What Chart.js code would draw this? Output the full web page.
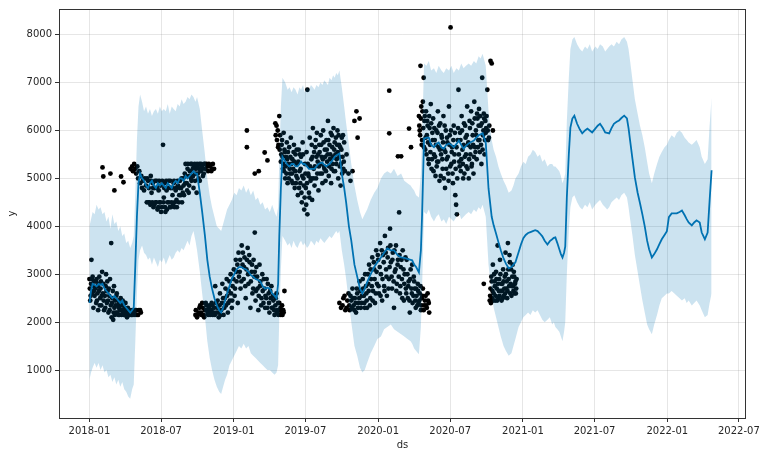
<!DOCTYPE html>
<html lang="en">
<head>
<meta charset="UTF-8">
<title>Forecast</title>
<script src="https://cdn.jsdelivr.net/npm/chart.js@4.4.1/dist/chart.umd.min.js"></script>
<style>
  * {margin:0;padding:0;box-sizing:border-box;}
  body {background:#fff;width:768px;height:459px;overflow:hidden;}
</style>
</head>
<body>
<canvas id="chart" width="768" height="459"></canvas>
<script>
// x values are days since 2018-01-01
const xTickLabels = ['2018-01','2018-07','2019-01','2019-07','2020-01','2020-07','2021-01','2021-07','2022-01','2022-07'];
const yTicks = [1000,2000,3000,4000,5000,6000,7000,8000];

// observed points [day, y]
const obsWinter2018 = [
  [0,2900],[1,2700],[2,2450],[4,2800],[6,2900],[7,2600],[9,2750],[10,2300],[12,2850],[13,2550],[15,2700],[17,2400],
  [18,2900],[20,2600],[22,2250],[23,2800],[25,2950],[27,2500],[28,2700],[30,2350],[32,3050],[34,2600],[35,2800],
  [37,2250],[39,2550],[41,2750],[42,3000],[44,2400],[46,2650],[48,2200],[50,2550],[52,2900],[54,2350],[56,2100],
  [58,2500],[60,2050],[62,2750],[63,2300],[65,2450],[67,2200],[69,2600],[71,2350],[73,2150],[75,2400],[77,2250],
  [79,2500],[81,2150],[83,2350],[85,2200],[88,2400],[90,2150],[92,2250],[95,2100],[97,2300],[100,2150],[102,2250],
  [105,2150],[108,2250],[110,2150],[113,2200],[116,2250],[120,2150],[125,2250],[130,2200],
  [3,2550],[8,2950],[11,2650],[16,2850],[19,2450],[21,2750],[24,2650],[26,2350],[29,2850],[31,2550],[36,2450],
  [40,2300],[43,2650],[45,2850],[47,2450],[49,2700],[51,2250],[57,2400],[59,2650],[61,2200],[64,2150],[66,2350],
  [68,2550],[70,2200],[72,2450],[74,2300],[76,2150],[78,2350],[82,2250],[84,2450],[87,2150],[89,2300],[91,2400],
  [94,2200],[96,2150],[99,2250],[104,2200],[107,2150],[111,2250],[115,2150],[118,2250],[123,2150],[128,2250],
  [5,3300],[55,3650],[33,5230],[35,5040],[53,5100],[63,4750],[80,5040],[86,4920]
];
const obsSummer2018 = [
  [104,5200],[108,5250],[110,5150],[113,5300],[116,5200],[118,5100],[121,5250],[123,5000],[126,5150],[128,4900],
  [131,5050],[133,4800],[135,4950],[138,4750],[140,5000],[143,4850],[145,4500],[148,4950],[150,4800],[152,4500],
  [155,5050],[157,4700],[160,4900],[162,4400],[165,4800],[167,4500],[170,4950],[172,4350],[175,4750],[177,4500],
  [180,4850],[183,4400],[186,5700],[188,4600],[190,4900],[192,4300],[195,4750],[197,4500],[200,4950],[203,4400],
  [205,4800],[208,4500],[210,4650],[213,4900],[215,4400],[218,4750],[220,4550],[223,4950],[226,4500],[228,4800],
  [231,4650],[233,5000],[236,4700],[238,4850],[241,5100],[243,5300],[246,4900],[248,5200],[251,4700],[253,5050],
  [256,5300],[258,4950],[261,5200],[263,4800],[266,5300],[268,5100],[271,4700],[273,5250],[276,5000],[278,5300],
  [281,5150],[284,5250],[287,5050],[290,5300],[293,5200],[296,5300],[300,5150],[305,5250],[310,5200],[315,5200],
  [146,5000],[149,4500],[154,4450],[156,4950],[159,4500],[161,4800],[164,4450],[166,4950],[169,4500],[171,4800],
  [174,4400],[176,4950],[179,4500],[181,4300],[184,4950],[187,4500],[189,4800],[191,4400],[194,4950],[196,4350],
  [199,4800],[201,4500],[204,4950],[206,4400],[209,4800],[211,4450],[214,4950],[216,4500],[219,4800],[221,4400],
  [224,4850],[227,4650],[229,4950],[232,4800],[234,4500],[237,5000],[239,4650],[242,4900],[244,5050],[247,4750],
  [249,5300],[252,4850],[254,5150],[257,5000],[259,5300],[262,5050],[264,5250],[267,4950],[269,5200],[272,5300],
  [274,5100],[277,5200],[279,4950],[282,5300],[286,5200],[289,5100],[292,5300],[298,5250],[302,5300],[308,5150],[312,5300]
];
const obsWinter2019 = [
  [268,2150],[272,2100],[276,2200],[280,2350],[283,2150],[287,2300],[290,2100],[294,2400],[297,2250],[300,2150],
  [303,2350],[306,2200],[309,2400],[312,2150],[315,2300],[318,2750],[321,2200],[324,2450],[327,2100],[330,2600],
  [333,2250],[336,2800],[339,2150],[342,2500],[345,2350],[347,2900],[350,2200],[352,2650],[355,2450],[357,3000],
  [360,2300],[362,2750],[365,3100],[367,2550],[370,3300],[372,2850],[375,2400],[377,3450],[380,3050],[382,2700],
  [385,3600],[387,3200],[390,2900],[392,3350],[395,2500],[397,3100],[400,3550],[402,2800],[405,3250],[407,2300],
  [410,3050],[412,2600],[415,3300],[417,2950],[420,2450],[422,3150],[425,2700],[427,2250],[430,3200],[432,2850],
  [435,2500],[437,3000],[440,2400],[443,2700],[445,2550],[448,2900],[450,2300],[453,2600],[455,2200],[458,2500],
  [460,2750],[463,2300],[465,2450],[468,2150],[470,2350],[473,2600],[475,2250],[478,2150],[480,2400],[483,2300],
  [486,2200],[488,2150],[490,2250],[493,2650],
  [269,2250],[274,2150],[278,2300],[282,2200],[285,2400],[289,2150],[292,2250],[296,2350],[299,2200],[302,2300],
  [305,2150],[308,2250],[311,2350],[314,2200],[317,2150],[320,2400],[323,2300],[326,2200],[329,2350],[332,2150],
  [335,2400],[338,2500],[341,2300],[344,2700],[348,2550],[351,2400],[354,2850],[358,2600],[361,2450],[364,2900],
  [368,2700],[371,3050],[374,3200],[378,2950],[381,3300],[384,2850],[388,3450],[391,3150],[394,2750],[398,3300],
  [401,3000],[404,3400],[408,2850],[411,3200],[414,2700],[418,3050],[421,2650],[424,2950],[428,2550],[431,2750],
  [434,2350],[438,2650],[441,2900],[444,2300],[447,2500],[451,2800],[454,2400],[457,2650],[461,2300],[464,2550],
  [467,2250],[471,2500],[474,2200],[477,2400],[481,2250],[484,2150],[487,2350],[491,2200],
  [418,3870],[398,6000],[398,5650],[418,5100],[428,5150],[443,5540],[450,5375]
];
const obsSummer2019 = [
  [470,6150],[473,6100],[476,6000],[478,5700],[480,6300],[482,5900],[485,5500],[487,5800],[489,5200],[491,5950],
  [493,5600],[495,5000],[497,5450],[499,5750],[501,4900],[503,5300],[505,5650],[507,5100],[509,5850],[511,4950],
  [513,5400],[515,5200],[517,5700],[519,4800],[521,5500],[523,5050],[525,5300],[527,4650],[529,5600],[531,5150],
  [533,4900],[535,5450],[537,4500],[539,5750],[541,5000],[543,4350],[545,5300],[547,4800],[548,4450],[549,5550],
  [551,4250],[551,6850],[553,5100],[555,4700],[556,4600],[557,5850],[559,4950],[561,5400],[563,4550],[565,6050],
  [567,5200],[569,4850],[571,5650],[573,5000],[575,5950],[577,5350],[579,4750],[581,5700],[583,5100],[585,5900],
  [587,5450],[589,4900],[591,6000],[593,5250],[595,5600],[597,4950],[599,5800],[601,5350],[603,6200],[605,5050],
  [607,5700],[609,5500],[611,4900],[613,5900],[615,5300],[617,6050],[619,5600],[621,5150],[623,5850],[625,5400],
  [627,6000],[629,5000],[631,5700],[633,5250],[635,4850],[637,5600],[639,5100],[641,5900],[643,5350],[646,5150],
  [650,5500],[655,5100],[660,4950],[665,5150],[670,6200],[675,6400],[678,5850],[683,6250],
  [471,5900],[474,5800],[477,5650],[481,5600],[484,5350],[486,5700],[488,5450],[490,5300],[492,5150],[494,5550],
  [496,5250],[498,5100],[500,5400],[502,5550],[504,5000],[506,5200],[508,5450],[510,5300],[512,5100],[514,4900],
  [516,5550],[518,5350],[520,5150],[522,4900],[524,5600],[526,5000],[528,5350],[530,4800],[532,5500],[534,5200],
  [536,4700],[538,5050],[540,5500],[542,4850],[544,4600],[546,5100],[550,4900],[552,5300],[554,5050],[558,5250],
  [560,5000],[562,5700],[564,5450],[566,5000],[568,5550],[570,5250],[572,5800],[574,5450],[576,5100],[578,5500],
  [580,5250],[582,5550],[584,5300],[586,5700],[588,5100],[590,5400],[592,5750],[594,5200],[596,5450],[598,5150],
  [600,5600],[602,5500],[604,5800],[606,5250],[608,5400],[610,5950],[612,5200],[614,5650],[616,5450],[618,5150],
  [620,5750],[622,5500],[624,5300],[626,5700],[628,5550],[630,5900],[632,5450],[634,5650],[636,5300],[638,5850],
  [640,5450],[642,5200],[644,5750]
];
const obsWinter2020 = [
  [632,2400],[640,2350],[645,2550],[650,2300],[655,2600],[658,2250],[662,2450],[665,2700],[668,2350],[671,2500],
  [674,2200],[677,2600],[680,2400],[683,2850],[686,2300],[689,2550],[692,2700],[695,2400],[697,3000],[700,2600],
  [702,2300],[705,2800],[707,3200],[710,2500],[712,2900],[715,3350],[717,2650],[720,3100],[722,2400],[725,3500],
  [727,2800],[730,3300],[732,2600],[735,3650],[737,3000],[740,2450],[742,3400],[745,2750],[747,3800],[750,3100],
  [752,2550],[755,3550],[757,2900],[760,3950],[762,3250],[765,2700],[767,3450],[770,2300],[772,3050],[775,3600],
  [777,2800],[780,3300],[783,4290],[785,2600],[787,3150],[790,2900],[792,3500],[795,2450],[797,3000],[800,2700],
  [802,3300],[805,2500],[807,2850],[810,2200],[812,3100],[815,2600],[817,2400],[820,2950],[822,2700],[825,2300],
  [827,2550],[830,2800],[832,2400],[835,2600],[838,2250],[840,2500],[843,2700],[846,2350],[850,2550],[853,2300],
  [856,2450],[859,2200],
  [636,2300],[642,2500],[647,2250],[652,2450],[657,2350],[660,2550],[664,2300],[667,2500],[670,2250],[673,2400],
  [676,2700],[679,2300],[682,2500],[685,2650],[688,2400],[691,2900],[694,2550],[696,2300],[699,2750],[701,2450],
  [704,3000],[706,2650],[709,2350],[711,3100],[714,2750],[716,2450],[719,3250],[721,2900],[724,2600],[726,3050],
  [729,3400],[731,2750],[734,3150],[736,2550],[739,3500],[741,2900],[744,3250],[746,2650],[749,3450],[751,2950],
  [754,3350],[756,2700],[759,3150],[761,3600],[764,2950],[766,3300],[769,2850],[771,3500],[774,3100],[776,2650],
  [779,3200],[782,2950],[784,3400],[786,2750],[789,3300],[791,2500],[794,3100],[796,2800],[799,3350],[801,2600],
  [804,3000],[806,2750],[809,2450],[811,2900],[814,2700],[816,3200],[819,2550],[821,2850],[824,2450],[826,2700],
  [829,2350],[831,2650],[834,2450],[837,2750],[839,2350],[842,2550],[845,2250],[848,2450],[851,2350],[855,2600],[858,2400],
  [758,6830],[758,5940],[780,5460],[788,5460],[808,6040],[813,5650]
];
const obsSummer2020 = [
  [833,6300],[835,6000],[837,7350],[839,6500],[841,5800],[843,6600],[845,7100],[847,6200],[849,5600],[851,6400],
  [853,5900],[855,6100],[857,5400],[859,6300],[861,5700],[863,6550],[865,5200],[867,5950],[869,6250],[871,5500],
  [873,5800],[875,5050],[877,6000],[879,5350],[881,6400],[883,5650],[885,4950],[887,6150],[889,5500],[891,5850],
  [893,5200],[895,6300],[897,5600],[899,4800],[901,6000],[903,5400],[905,5750],[907,5100],[909,6500],[911,5900],
  [913,8150],[915,5300],[917,5650],[919,4900],[921,6100],[923,5500],[925,4650],[927,4450],[929,4250],[931,5800],
  [933,6850],[935,5350],[937,5950],[939,5150],[941,6300],[943,5600],[945,5000],[947,6150],[949,5450],[951,5850],
  [953,5250],[955,6500],[957,5700],[959,5000],[961,6200],[963,5500],[965,6400],[967,5300],[969,5900],[971,5100],
  [973,6600],[975,5650],[977,6000],[979,5400],[981,6250],[983,5800],[985,6450],[987,5550],[989,6100],[991,5300],
  [993,7100],[995,5900],[997,6350],[999,5500],[1001,6200],[1003,6050],[1006,6850],[1008,5800],[1011,6100],
  [1014,7450],[1017,7400],[1020,6000],
  [834,6100],[836,5900],[838,6250],[840,5700],[842,6400],[844,6050],[846,5650],[848,6300],[850,5850],[852,5500],
  [854,6200],[856,5750],[858,5300],[860,6050],[862,5550],[864,6150],[866,5400],[868,5800],[870,5150],[872,6050],
  [874,5450],[876,5700],[878,5250],[880,5950],[882,5350],[884,6100],[886,5600],[888,5050],[890,5900],[892,5400],
  [894,5750],[896,5000],[898,6100],[900,5550],[902,5200],[904,5850],[906,5450],[908,4950],[910,5700],[912,5250],
  [914,6000],[916,5550],[918,5100],[920,5800],[922,5350],[924,5950],[926,5200],[928,5650],[930,5000],[932,6050],
  [934,5500],[936,5250],[938,5800],[940,5400],[942,6000],[944,5300],[946,5700],[948,5100],[950,6100],[952,5500],
  [954,5900],[956,5200],[958,5750],[960,5400],[962,6050],[964,5650],[966,5250],[968,6150],[970,5700],[972,5450],
  [974,6250],[976,5550],[978,5900],[980,6350],[982,5650],[984,6100],[986,5800],[988,6300],[990,5700],[992,6150],
  [994,5600],[996,6000],[998,6250],[1000,5800],[1002,5950],[1004,6300],[1007,6000],[1010,5850]
];
const obsAutumn2020 = [
  [997,2800],[1012,2450],[1014,2700],[1016,2950],[1018,2500],[1020,3200],[1022,2600],[1024,2850],[1026,2450],
  [1028,3050],[1030,2700],[1032,3600],[1034,2500],[1036,2900],[1038,3300],[1040,2650],[1042,2450],[1044,2800],
  [1046,3100],[1048,2550],[1050,2950],[1052,3450],[1054,2700],[1056,2500],[1058,3650],[1060,2900],[1062,3400],
  [1064,2600],[1066,3100],[1068,2750],[1070,3200],[1072,2650],[1074,2950],[1076,2800],[1078,2600],[1080,2900],
  [1013,2550],[1015,2400],[1017,2850],[1019,2650],[1021,2450],[1023,3000],[1025,2750],[1027,2550],[1029,2900],
  [1031,2450],[1033,2800],[1035,2650],[1037,2550],[1039,3000],[1041,2800],[1043,2650],[1045,2500],[1047,2850],
  [1049,2700],[1051,2600],[1053,3000],[1055,2850],[1057,2650],[1059,3100],[1061,2750],[1063,3250],[1065,2800],
  [1067,2550],[1069,2950],[1071,2750],[1073,3050],[1075,2600],[1077,2850],[1079,2700]
];

// forecast: day, yhat, upper, lower
const fcDays = [
  0,4,8,13,18,23,28,33,38,43,48,53,58,63,68,73,78,83,88,93,98,103,108,112,116,120,124,128,
  133,138,143,148,153,158,163,168,173,178,183,188,193,198,203,208,213,218,223,228,233,238,243,248,253,258,263,268,
  272,279,285,292,298,304,310,316,322,328,333,338,343,348,354,360,366,372,378,384,390,396,402,408,414,420,426,432,438,444,450,456,462,468,473,477,480,484,
  488,495,501,506,511,516,521,526,531,535,540,544,550,555,560,565,569,574,579,584,589,594,598,603,607,612,616,620,624,628,632,638,644,649,656,662,670,677,684,690,696,702,711,720,728,737,745,753,762,770,779,788,796,804,812,816,821,826,833,838,841,846,
  852,858,864,871,877,883,890,896,902,909,915,921,928,934,940,946,952,959,965,972,978,984,989,994,1002,1009,1017,
  1022,1028,1034,1040,1047,1053,1060,1067,1072,1077,1085,1091,1097,1103,1109,1115,1121,1127,1133,1139,1145,1151,1158,1164,1170,1174,1178,1183,1188,1192,1196,1200,1203,
  1207,1212,1216,1221,1226,1233,1240,1246,1253,1259,1265,1271,1279,1285,1291,1298,1304,1309,1314,1320,1326,1333,1339,1345,1352,1359,1363,1367,1373,1379,1386,1392,1398,
  1404,1410,1415,1422,1428,1435,1441,1447,1454,1460,1465,1472,1479,1485,1492,1498,1505,1510,1515,1523,1529,1535,1543,1548,1556,1563,1568,1573
];
const fcYhat = [
  2400,2650,2800,2780,2750,2800,2780,2800,2700,2650,2600,2550,2500,2550,2500,2450,2400,2450,2350,2300,2250,2200,2250,2300,3200,4200,4900,5100,
  5000,4950,4850,4800,4900,4950,4850,4800,4900,4850,4900,4850,4800,4900,4850,4800,4900,4950,4900,5000,5000,4950,5050,5000,5050,5100,5150,5100,
  5100,4700,4300,3800,3300,2950,2700,2500,2350,2250,2200,2300,2450,2600,2750,2900,3000,3100,3150,3150,3120,3100,3050,2980,2950,2900,2880,2850,2750,2700,2720,2700,2600,2550,2500,2800,3800,4800,
  5450,5350,5280,5250,5300,5300,5250,5250,5300,5350,5300,5300,5250,5200,5200,5200,5200,5250,5300,5320,5330,5280,5250,5280,5300,5350,5400,5450,5480,5500,5520,5100,4800,4500,4000,3700,3200,2950,2700,2600,2700,2830,3000,3150,3250,3350,3450,3540,3500,3500,3400,3350,3340,3320,3300,3290,3200,3150,3040,3500,4230,5830,
  5850,5850,5700,5650,5720,5750,5650,5620,5700,5730,5700,5650,5720,5790,5700,5620,5680,5730,5760,5790,5850,5900,5920,5940,5750,4790,4200,
  4020,3850,3670,3500,3330,3220,3125,3150,3200,3250,3460,3620,3750,3820,3860,3880,3900,3920,3900,3850,3790,3700,3620,3690,3730,3760,3770,3650,3520,3420,3350,3450,3580,
  4600,5500,6060,6250,6310,6140,6020,5940,6000,6040,6000,5960,6040,6100,6140,6050,5960,5950,5940,6050,6140,6180,6210,6260,6310,6250,6050,5790,5400,5020,4700,4480,4250,
  4000,3700,3520,3350,3420,3520,3630,3730,3820,3900,4190,4270,4270,4270,4300,4330,4230,4150,4080,4020,4080,4125,4080,3870,3730,3870,4540,5170
];
const fcUpper = [
  4000,4150,4300,4250,4450,4350,4400,4250,4300,4100,4200,3950,4250,4050,4100,3900,4000,3800,3850,3650,3700,3550,3650,3800,4700,5800,6500,6750,
  6600,6400,6500,6350,6450,6300,6400,6450,6350,6500,6400,6450,6400,6550,6350,6500,6450,6400,6550,6500,6650,6550,6600,6700,6650,6750,6700,6600,
  6700,6450,6000,5500,5000,4650,4400,4200,4000,3950,3900,4050,4200,4350,4450,4550,4700,4650,4800,4750,4850,4700,4800,4650,4750,4550,4600,4450,4500,4350,4400,4300,4450,4300,4200,4400,5400,6500,
  7100,7000,6850,6900,6800,6900,6850,6750,6900,6850,6950,6800,6900,6850,6950,6900,6850,6950,6900,7000,6950,7050,7000,6950,7100,7050,7150,7100,7200,7150,7250,6900,6500,6150,5700,5300,4850,4550,4300,4150,4250,4350,4550,4700,4800,5000,5100,5150,5100,5200,5050,5100,4950,4900,4850,4800,4750,4650,4600,5100,5900,7400,
  7350,7450,7250,7300,7200,7350,7250,7200,7300,7250,7350,7200,7300,7250,7400,7300,7350,7400,7350,7450,7400,7550,7500,7600,7350,6400,5800,
  5600,5450,5250,5100,4950,4850,4700,4750,4850,5000,5100,5250,5350,5300,5450,5500,5600,5550,5450,5500,5350,5400,5250,5300,5300,5250,5250,5200,5150,5050,4900,5000,5100,
  6200,7100,7700,7900,7950,7800,7700,7650,7750,7700,7800,7650,7750,7700,7800,7750,7650,7700,7750,7800,7750,7850,7800,7900,7950,7850,7700,7450,7050,6650,6350,6100,5900,
  5650,5350,5100,4900,5100,5300,5450,5550,5650,5700,5800,5900,5850,5950,6000,5950,5850,5800,5750,5700,5750,5800,5650,5450,5300,5400,6100,6690
];
const fcLower = [
  800,950,1050,1150,1050,1150,1000,1100,950,1000,850,900,750,850,700,800,650,750,600,550,450,400,600,700,1600,2600,3300,3500,
  3600,3450,3400,3300,3350,3200,3350,3250,3150,3300,3250,3350,3200,3300,3400,3300,3350,3450,3500,3450,3550,3500,3600,3700,3600,3800,3900,3700,
  3500,3050,2600,2100,1600,1250,1000,800,650,550,500,650,800,900,1100,1200,1300,1400,1500,1450,1550,1450,1500,1350,1300,1250,1200,1150,1100,1050,1000,1000,950,900,950,1100,2100,3100,
  3800,3700,3600,3650,3550,3700,3600,3550,3650,3700,3600,3650,3550,3600,3700,3650,3600,3700,3650,3750,3700,3650,3700,3750,3800,3750,3800,3850,3900,3850,3900,3500,3200,2900,2400,2000,1500,1300,1050,950,1000,1150,1350,1500,1650,1700,1850,1900,1950,1850,1800,1750,1700,1650,1600,1550,1450,1400,1330,1900,2700,4300,
  4250,4350,4200,4100,4200,4250,4100,4150,4050,4200,4150,4100,4200,4300,4150,4200,4250,4300,4250,4350,4300,4400,4350,4450,4200,3200,2600,
  2300,2100,1900,1700,1500,1400,1300,1350,1500,1650,1900,2000,2100,2150,2200,2150,2250,2200,2250,2150,2050,2000,2050,2100,1950,2000,1900,1850,1800,1700,1600,1800,2000,
  3000,3900,4400,4600,4650,4500,4400,4350,4450,4400,4500,4350,4450,4500,4550,4450,4400,4350,4400,4500,4550,4600,4550,4650,4700,4600,4400,4150,3800,3400,3050,2750,2450,
  2200,1950,1850,1750,1950,2150,2350,2500,2550,2600,2600,2650,2600,2550,2500,2450,2500,2400,2450,2350,2400,2450,2350,2250,2100,2150,2400,2600
];

const dayOf = label => {
  const [yr, mo] = label.split('-').map(Number);
  return Math.round((Date.UTC(yr, mo - 1, 1) - Date.UTC(2018, 0, 1)) / 86400000);
};
const xTickDays = xTickLabels.map(dayOf);

const observed = [].concat(obsWinter2018, obsSummer2018, obsWinter2019, obsSummer2019,
  obsWinter2020, obsSummer2020, obsAutumn2020).map(p => ({x: p[0], y: p[1]}));
const series = arr => fcDays.map((d, i) => ({x: d, y: arr[i]}));

const tickFont = {family: "'DejaVu Sans', sans-serif", size: 10};
const gridCol = 'rgba(128,128,128,0.2)';

const framePlugin = {
  id: 'frame',
  afterDraw(chart) {
    const {ctx, chartArea: a} = chart;
    ctx.save();
    ctx.strokeStyle = '#333';
    ctx.lineWidth = 1;
    ctx.strokeRect(a.left + 0.5, a.top + 0.5, a.right - a.left - 1, a.bottom - a.top);
    ctx.fillStyle = '#262626';
    ctx.font = "10px 'DejaVu Sans', sans-serif";
    ctx.textAlign = 'center';
    ctx.textBaseline = 'middle';
    ctx.fillText('ds', (a.left + a.right) / 2, 445);
    ctx.translate(12, (a.top + a.bottom) / 2);
    ctx.rotate(-Math.PI / 2);
    ctx.fillText('y', 0, 0);
    ctx.restore();
  }
};

new Chart(document.getElementById('chart'), {
  type: 'line',
  data: {
    datasets: [
      {type: 'scatter', data: observed, pointRadius: 2.4, pointBackgroundColor: '#000',
       pointBorderWidth: 0, order: 4},
      {data: series(fcYhat), borderColor: '#0072B2', borderWidth: 1.8, pointRadius: 0,
       tension: 0, fill: false, order: 3},
      {data: series(fcLower), borderColor: 'rgba(0,0,0,0)', borderWidth: 1, pointRadius: 0,
       fill: false, order: 2},
      {data: series(fcUpper), borderColor: 'rgba(0,0,0,0)', borderWidth: 1, pointRadius: 0,
       fill: '-1', backgroundColor: 'rgba(0,114,178,0.2)', order: 1}
    ]
  },
  options: {
    responsive: false,
    animation: false,
    devicePixelRatio: 1,
    layout: {padding: {top: 8, right: 22, left: 0, bottom: 0}},
    plugins: {legend: {display: false}, tooltip: {enabled: false}},
    scales: {
      x: {
        type: 'linear', min: -77, max: 1660,
        afterBuildTicks: s => { s.ticks = xTickDays.map(v => ({value: v})); },
        afterFit: s => { s.height = 41; },
        ticks: {font: tickFont, color: '#262626', maxRotation: 0, autoSkip: false, padding: 3,
                callback: (v, i) => xTickLabels[i]},
        grid: {color: gridCol, tickColor: '#333', tickLength: 4},
        border: {display: false}
      },
      y: {
        min: 0, max: 8535,
        afterBuildTicks: s => { s.ticks = yTicks.map(v => ({value: v})); },
        afterFit: s => { s.width = 59; },
        ticks: {font: tickFont, color: '#262626', padding: 3, callback: v => String(v)},
        grid: {color: gridCol, tickColor: '#333', tickLength: 4},
        border: {display: false}
      }
    }
  },
  plugins: [framePlugin]
});
</script>
</body>
</html>
